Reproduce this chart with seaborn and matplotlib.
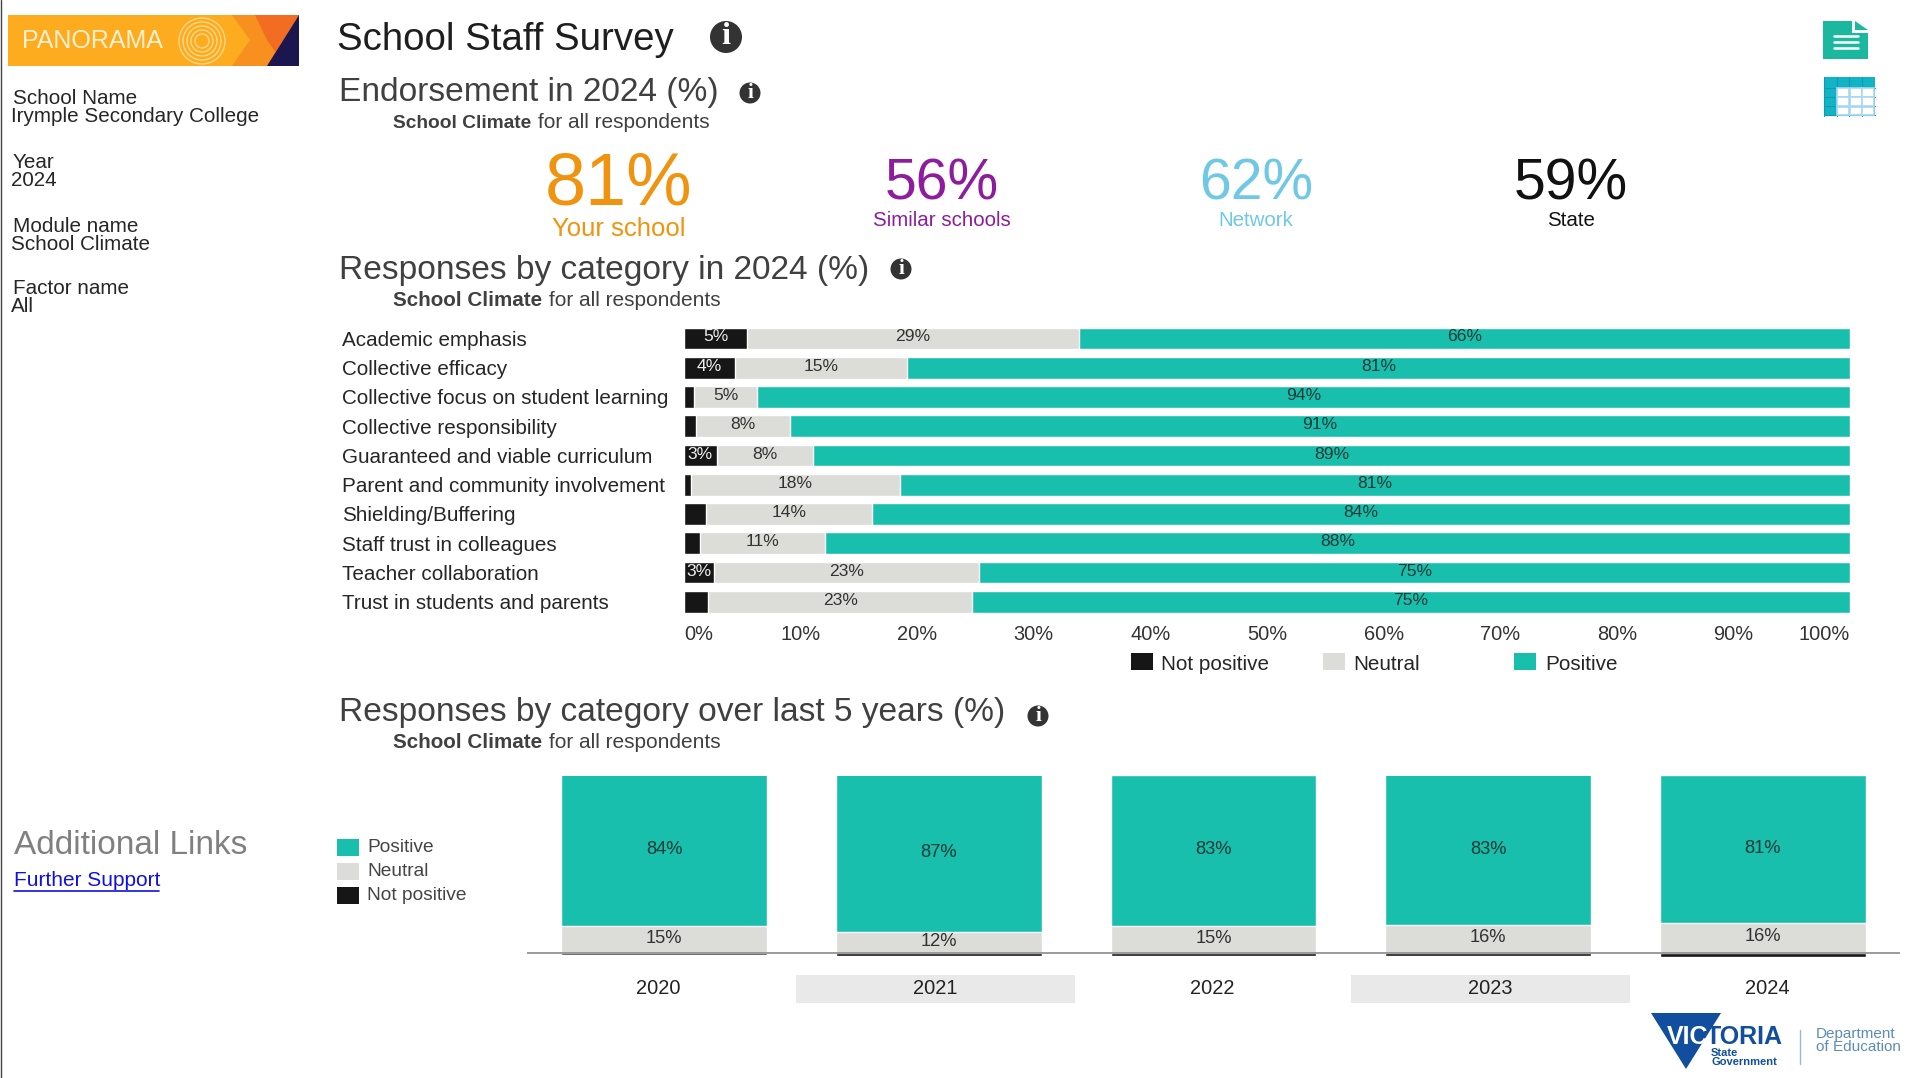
# -*- coding: utf-8 -*-
import matplotlib
matplotlib.use("Agg")
import matplotlib.pyplot as plt
from matplotlib.patches import Circle, Polygon, Rectangle
import seaborn as sns

# data: responses by category in 2024
categories = ["Academic emphasis", "Collective efficacy", "Collective focus on student learning",
              "Collective responsibility", "Guaranteed and viable curriculum",
              "Parent and community involvement", "Shielding/Buffering", "Staff trust in colleagues",
              "Teacher collaboration", "Trust in students and parents"]
cat_not_positive = [5.4, 4.4, 0.85, 1.0, 2.8, 0.6, 1.9, 1.4, 2.6, 2.1]
cat_neutral = [28.5, 14.7, 5.45, 8.1, 8.3, 17.9, 14.2, 10.7, 22.7, 22.6]
cat_not_labels = ["5%", "4%", "", "", "3%", "", "", "", "3%", ""]
cat_neutral_labels = ["29%", "15%", "5%", "8%", "8%", "18%", "14%", "11%", "23%", "23%"]
cat_positive_labels = ["66%", "81%", "94%", "91%", "89%", "81%", "84%", "88%", "75%", "75%"]
pct_ticks = [0, 10, 20, 30, 40, 50, 60, 70, 80, 90, 100]

# data: responses over last 5 years
years = ["2020", "2021", "2022", "2023", "2024"]
year_positive = [84, 87, 83, 83, 81]
year_neutral = [15.0, 11.5, 15.0, 15.7, 16.6]
year_not_positive = [0.8, 1.7, 1.5, 1.5, 2.2]
year_positive_labels = ["84%", "87%", "83%", "83%", "81%"]
year_neutral_labels = ["15%", "12%", "15%", "16%", "16%"]

# data: endorsement
endorse_names = ["Your school", "Similar schools", "Network", "State"]
endorse_values = ["81%", "56%", "62%", "59%"]

TEAL = "#19BFAD"
GREY = "#DCDCD9"
BLACK = "#161616"
W, H = 1921, 1078

sns.set_theme(style="white")
plt.rcParams["font.family"] = ["Liberation Sans", "DejaVu Sans"]


def box(l, t, r, b):
    return [l / W, 1 - b / H, (r - l) / W, (b - t) / H]


fig = plt.figure(figsize=(W / 100, H / 100), dpi=100, facecolor="white")

# full page layer in pixel coordinates, for text and furniture around the charts
page = fig.add_axes([0, 0, 1, 1], zorder=0)
page.set_xlim(0, W)
page.set_ylim(H, 0)
page.axis("off")


def txt(x, y, s, size, color="#262626", ha="left", weight="normal"):
    page.text(x, y, s, fontsize=size, color=color, ha=ha, va="center", fontweight=weight)


def info(x, y, r):
    page.add_patch(Circle((x, y), r, color="#333333", lw=0))
    page.text(x, y, "i", fontsize=r * 1.45, color="white", ha="center", va="center",
              fontweight="bold", family="Liberation Serif")


# left frame line
page.plot([0.5, 0.5], [0, H], color="#444444", lw=1)

# panorama logo
page.add_patch(Rectangle((8, 15), 291, 51, color="#FDAB1F", lw=0))
page.add_patch(Polygon([(232, 15), (262, 15), (285, 66), (232, 66), (250, 40)], color="#F8901F", lw=0))
page.add_patch(Polygon([(255, 15), (299, 15), (267, 66), (285, 66), (267, 40)], color="#F26C22", lw=0))
page.add_patch(Polygon([(299, 15), (299, 66), (267, 66)], color="#1C1650", lw=0))
for r in [7, 11, 15, 19, 23]:
    page.add_patch(Circle((202, 41), r, fill=False, ec="#FFD88A", lw=1))
txt(22, 41, "PANORAMA", 18, color="#FFF1D0")

# left panel
side = [(13, 98, "School Name"), (11, 116, "Irymple Secondary College"),
        (13, 162, "Year"), (11, 180, "2024"),
        (13, 226, "Module name"), (11, 244, "School Climate"),
        (13, 289, "Factor name"), (11, 307, "All")]
for x, y, s in side:
    txt(x, y, s, 14.9)
txt(14, 845, "Additional Links", 24, color="#808080")
txt(14, 881, "Further Support", 15, color="#1010E0")
page.plot([14, 159], [891, 891], color="#1010E0", lw=1.2)

# headings
txt(337, 40, "School Staff Survey", 27.6, color="#1E1E1E")
info(726, 37, 16)
txt(339, 92, "Endorsement in 2024 (%)", 24.1, color="#404040")
info(750, 93, 10.5)
txt(339, 271, "Responses by category in 2024 (%)", 24.1, color="#404040")
info(901, 269, 10.5)
txt(339, 713, "Responses by category over last 5 years (%)", 24.1, color="#404040")
info(1038, 716, 10.5)
for y, bold_size, end_x in [(123, 13.8, 538), (301, 14.9, 549), (743, 14.9, 549)]:
    txt(393, y, "School Climate", bold_size, color="#404040", weight="bold")
    txt(end_x, y, "for all respondents", 15, color="#404040")

# endorsement numbers
endorse_x = [619, 942, 1256, 1571]
endorse_colors = ["#F0930F", "#8E1C9E", "#6EC8E6", "#111111"]
for i in range(4):
    big = i == 0
    txt(endorse_x[i], 185, endorse_values[i], 53 if big else 41, color=endorse_colors[i], ha="center")
    txt(endorse_x[i], 229 if big else 220, endorse_names[i], 18.5 if big else 14.8, color=endorse_colors[i], ha="center")

# report and table icons
page.add_patch(Polygon([(1823, 21), (1852, 21), (1852, 33), (1868, 33), (1868, 59), (1823, 59)], color="#1BB89F", lw=0))
page.add_patch(Polygon([(1855, 21), (1868, 30), (1855, 30)], color="#1BB89F", lw=0))
for y in [36, 42, 48]:
    page.plot([1834, 1858], [y, y], color="white", lw=1.8)
page.add_patch(Rectangle((1824, 77), 51, 39, color="#13B3C6", lw=0))
for col in range(4):
    page.plot([1824 + col * 12.7] * 2, [77, 116], color="#0E9BAE", lw=0.8)
for row in range(4):
    page.plot([1824, 1875], [88 + row * 9] * 2, color="#0E9BAE", lw=0.8)
for col in range(3):
    for row in range(3):
        page.add_patch(Rectangle((1837 + col * 12.7, 88 + row * 9.3), 12, 8.6, fc="white", ec="#A9D8F5", lw=1.2, zorder=3))

# top legend
for x, x_text, s, c in [(1131, 1161, "Not positive", BLACK), (1323, 1353, "Neutral", GREY), (1514, 1545, "Positive", TEAL)]:
    page.add_patch(Rectangle((x, 653), 22, 17, color=c, lw=0))
    txt(x_text, 664, s, 14.9)

# bottom legend
for y, s, c in [(839, "Positive", TEAL), (863, "Neutral", GREY), (887, "Not positive", BLACK)]:
    page.add_patch(Rectangle((337, y), 22, 17, color=c, lw=0))
    txt(367, y + 9, s, 13.8, color="#444444")

# year bands and labels
page.add_patch(Rectangle((796, 975), 279, 28, color="#E9E9E9", lw=0))
page.add_patch(Rectangle((1351, 975), 279, 28, color="#E9E9E9", lw=0))
for x, s in zip([658, 935, 1212, 1490, 1767], years):
    txt(x, 989, s, 14.4, ha="center", color="#222222")

# victoria logo
page.add_patch(Polygon([(1651, 1013), (1721, 1013), (1686, 1069)], color="#114E9E", lw=0))
txt(1667, 1037, "VIC", 18, color="white", weight="bold")
txt(1706, 1037, "TORIA", 18, color="#114E9E", weight="bold")
txt(1711, 1053, "State", 8, color="#114E9E", weight="bold")
txt(1711, 1062, "Government", 8, color="#114E9E", weight="bold")
page.plot([1800, 1800], [1030, 1064], color="#9DB8D2", lw=1)
txt(1816, 1034, "Department", 11, color="#5B8DB8")
txt(1816, 1047, "of Education", 11, color="#5B8DB8")

# chart 1: stacked horizontal bars, drawn back to front as running totals
ax1 = fig.add_axes(box(684, 323.8, 1850, 616.4), zorder=1)
ax1.patch.set_alpha(0)
totals = [100] * len(categories)
not_plus_neutral = [a + b for a, b in zip(cat_not_positive, cat_neutral)]
sns.barplot(x=totals, y=categories, color=TEAL, saturation=1, width=0.745, ax=ax1)
sns.barplot(x=not_plus_neutral, y=categories, color=GREY, saturation=1, width=0.745, ax=ax1)
sns.barplot(x=cat_not_positive, y=categories, color=BLACK, saturation=1, width=0.745, ax=ax1)
for i in range(len(categories)):
    ax1.text(cat_not_positive[i] / 2, i - 0.05, cat_not_labels[i], color="#EEEEEE", fontsize=12.6, ha="center", va="center")
    ax1.text(cat_not_positive[i] + cat_neutral[i] / 2, i - 0.05, cat_neutral_labels[i], color="#333333", fontsize=12.6, ha="center", va="center")
    ax1.text((not_plus_neutral[i] + 100) / 2, i - 0.05, cat_positive_labels[i], color="#1E3A36", fontsize=12.6, ha="center", va="center")
ax1.set_xlim(0, 100)
ax1.set_xticks(pct_ticks)
ax1.set_xticklabels([f"{t}%" for t in pct_ticks], fontsize=14.4, color="#333333")
ax1.get_xticklabels()[0].set_ha("left")
ax1.get_xticklabels()[-1].set_ha("right")
ax1.set_xlabel("")
ax1.set_ylabel("")
ax1.tick_params(axis="x", length=0, pad=6.5)
ax1.tick_params(axis="y", length=0, pad=246.5, labelsize=14.9, labelcolor="#262626")
for label in ax1.get_yticklabels():
    label.set_ha("left")
sns.despine(ax=ax1, left=True, bottom=True)

# chart 2: columns cut off at the top of the plot, not positive below the baseline
ax2 = fig.add_axes(box(527, 775.7, 1900, 960.6), zorder=1)
ax2.patch.set_alpha(0)
stack_top = [a + b for a, b in zip(year_positive, year_neutral)]
sns.barplot(x=years, y=stack_top, color=TEAL, saturation=1, width=0.75, ax=ax2)
sns.barplot(x=years, y=year_neutral, color=GREY, saturation=1, width=0.75, ax=ax2)
sns.barplot(x=years, y=[-v for v in year_not_positive], color=BLACK, saturation=1, width=0.75, ax=ax2)
y_top = 97.4
for i in range(len(years)):
    ax2.text(i, (year_neutral[i] + y_top) / 2 + 0.6, year_positive_labels[i], color="#163A36", fontsize=13.2, ha="center", va="center")
    ax2.text(i, year_neutral[i] / 2 + 0.8, year_neutral_labels[i], color="#333333", fontsize=13.2, ha="center", va="center")
ax2.axhline(0, color="#8A8A8A", lw=1.2, zorder=5)
ax2.set_xlim(-0.5, 4.5)
ax2.set_ylim(-4, y_top)
ax2.set_xticks([])
ax2.set_yticks([])
ax2.set_xlabel("")
ax2.set_ylabel("")
sns.despine(ax=ax2, left=True, bottom=True)

fig.savefig("out.png", dpi=100)
